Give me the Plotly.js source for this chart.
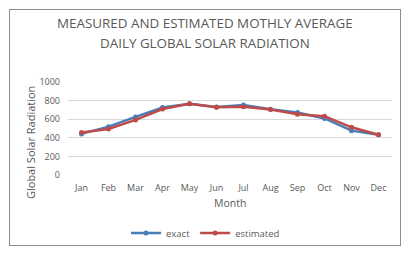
<!DOCTYPE html>
<html><head><meta charset="utf-8">
<script src="https://cdn.plot.ly/plotly-3.0.1.min.js"></script>
<style>
html,body{margin:0;padding:0;background:#fff;}
#wrap{position:relative;width:411px;height:253px;}
#chart{width:411px;height:253px;}
#frame{position:absolute;left:9px;top:9px;width:390px;height:235px;border:1px solid #8c8c8c;pointer-events:none;}
</style></head>
<body>
<div id="wrap"><div id="chart"></div><div id="frame"></div></div>
<script>
const months = ["Jan","Feb","Mar","Apr","May","Jun","Jul","Aug","Sep","Oct","Nov","Dec"];
const exact = [442, 520, 625, 725, 766, 731, 752, 706, 672, 608, 477, 432];
const estimated = [458, 495, 592, 710, 766, 728, 733, 705, 654, 633, 513, 432];
const yTicks = [0, 200, 400, 600, 800, 1000];
const titleLines = ["MEASURED AND ESTIMATED MOTHLY AVERAGE", "DAILY GLOBAL SOLAR RADIATION"];

const font = "'Open Sans', 'Liberation Sans', sans-serif";
const W = 411, H = 253, L = 68, R = 19, T = 82, B = 78;
const pw = W - L - R, ph = H - T - B;
const px = v => (v - L) / pw;
const py = v => (H - B - v) / ph;

const traces = [
  {x: months, y: exact, name: "exact", type: "scatter", mode: "lines+markers",
   line: {color: "#4a7ebb", width: 2.5}, marker: {color: "#4a7ebb", size: 5}},
  {x: months, y: estimated, name: "estimated", type: "scatter", mode: "lines+markers",
   line: {color: "#be4b48", width: 2.5}, marker: {color: "#be4b48", size: 5}}
];
const layout = {
  width: W, height: H,
  margin: {l: L, r: R, t: T, b: B},
  paper_bgcolor: "#fff", plot_bgcolor: "#fff",
  font: {family: font, color: "#595959", size: 9},
  xaxis: {type: "category", range: [-0.5, 11.5], showgrid: false, zeroline: false, showline: false,
          ticks: "", tickfont: {size: 9, color: "#595959"}, ticklabelstandoff: 6, automargin: false},
  yaxis: {range: [0, 1000], tickvals: yTicks, showgrid: true, gridcolor: "#d9d9d9", gridwidth: 1,
          zeroline: false, showline: false, ticks: "", tickfont: {size: 9, color: "#595959"},
          ticklabelstandoff: 7, automargin: false},
  showlegend: true,
  legend: {orientation: "h", xref: "container", yref: "container", x: 0.5, xanchor: "center",
           y: 1 - 233/253, yanchor: "middle",
           font: {size: 9.5, color: "#595959"}, itemwidth: 30},
  annotations: [
    {text: titleLines[0], xref: "paper", yref: "paper", x: px(205), y: py(23), xanchor: "center", yanchor: "middle",
     showarrow: false, font: {size: 13.4, color: "#595959"}},
    {text: titleLines[1], xref: "paper", yref: "paper", x: px(205), y: py(43), xanchor: "center", yanchor: "middle",
     showarrow: false, font: {size: 13.4, color: "#595959"}},
    {text: "Month", xref: "paper", yref: "paper", x: 0.5, y: py(203), xanchor: "center", yanchor: "middle",
     showarrow: false, font: {size: 10.5, color: "#595959"}},
    {text: "Global Solar Radiation", xref: "paper", yref: "paper", x: px(30), y: py(143), xanchor: "center", yanchor: "middle",
     textangle: -90, showarrow: false, font: {size: 11, color: "#595959"}}
  ]
};
Plotly.newPlot("chart", traces, layout, {displayModeBar: false, staticPlot: true});
</script>
</body></html>
